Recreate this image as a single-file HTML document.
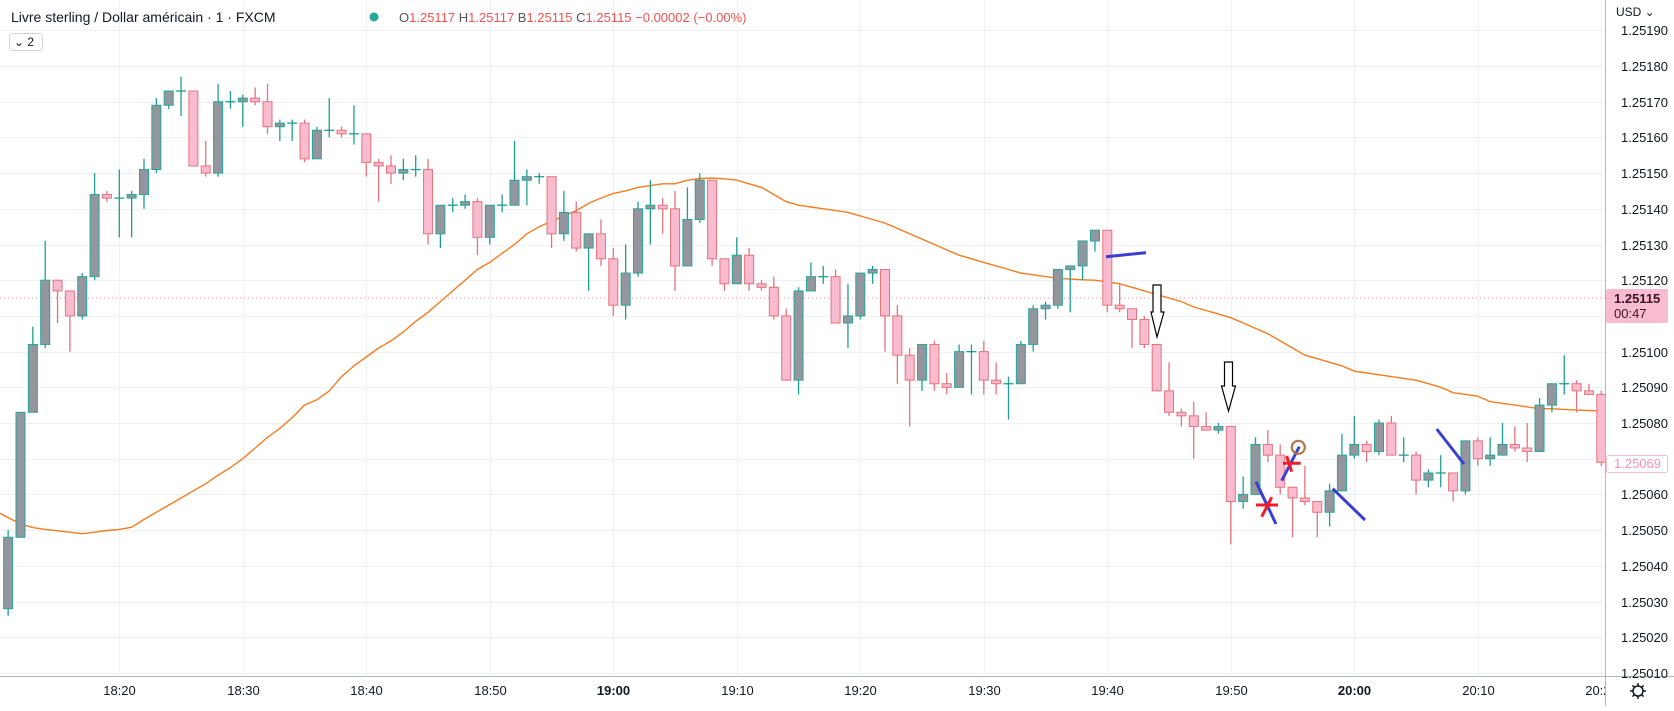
<!DOCTYPE html>
<html><head><meta charset="utf-8"><style>
html,body{margin:0;padding:0;background:#fff;}
body{width:1674px;height:706px;overflow:hidden;font-family:"Liberation Sans",sans-serif;}
svg text{font-family:"Liberation Sans",sans-serif;}
</style></head><body>
<svg id="chart" width="1674" height="706" xmlns="http://www.w3.org/2000/svg">
  <defs><clipPath id="xclip"><rect x="0" y="676" width="1605" height="30"/></clipPath></defs>
  <rect x="0" y="0" width="1674" height="706" fill="#ffffff"/>
  <g id="grid"></g>
  <g id="ma"></g>
  <g id="candles"></g>
  <g id="annotations">
    <line x1="1106" y1="256.7" x2="1146" y2="252.7" stroke="#3b3fd0" stroke-width="3"/>
    <path d="M1153 285 H1161 V312 H1164 L1157 337 L1151 312 H1153 Z" fill="#fff" stroke="#000" stroke-width="1.2"/>
    <path d="M1224.5 362 H1232.5 V386 H1235.5 L1228.5 411 L1221.5 386 H1224.5 Z" fill="#fff" stroke="#000" stroke-width="1.2"/>
    <line x1="1256" y1="481.7" x2="1276" y2="524" stroke="#3b3fd0" stroke-width="3"/>
    <line x1="1256" y1="505" x2="1278" y2="505" stroke="#f01c2a" stroke-width="3"/>
    <line x1="1261.7" y1="516.7" x2="1271.7" y2="497.3" stroke="#f01c2a" stroke-width="3"/>
    <line x1="1281.7" y1="480.7" x2="1299.3" y2="446.7" stroke="#3b3fd0" stroke-width="3"/>
    <line x1="1283" y1="463.3" x2="1300.7" y2="463.3" stroke="#f01c2a" stroke-width="3"/>
    <line x1="1286.7" y1="456" x2="1291.7" y2="471.7" stroke="#f01c2a" stroke-width="3"/>
    <circle cx="1298.3" cy="447.3" r="6.5" fill="none" stroke="#b0754a" stroke-width="2.2"/>
    <line x1="1332.7" y1="488.7" x2="1365" y2="520" stroke="#3b3fd0" stroke-width="3"/>
    <line x1="1436.7" y1="429" x2="1464" y2="464" stroke="#3b3fd0" stroke-width="3"/>
  </g>
  <rect x="1605" y="0" width="69" height="706" fill="#fff"/>
  <rect x="0" y="676" width="1674" height="30" fill="#fff"/>
  <line x1="1605.5" y1="0" x2="1605.5" y2="706" stroke="#b2b5be" stroke-width="1"/>
  <line x1="0" y1="676.5" x2="1674" y2="676.5" stroke="#b2b5be" stroke-width="1"/>
  <g id="yaxis"></g>
  <g id="xaxis" clip-path="url(#xclip)"></g>
  <text x="1616" y="16" font-size="12" fill="#131722">USD ⌄</text>
  <rect x="1606" y="289" width="62" height="34" rx="2" fill="#f8bbd0"/>
  <text x="1614" y="303" font-size="13" fill="#3a1525" font-weight="bold">1.25115</text>
  <text x="1614" y="318" font-size="13" fill="#3a1525">00:47</text>
  <rect x="1606.5" y="455.5" width="61" height="17" rx="2" fill="#fff" stroke="#f8bbd0"/>
  <text x="1614" y="468" font-size="13" fill="#f48fb1">1.25069</text>
  <g transform="translate(1638,691)">
    <circle r="5" fill="none" stroke="#131722" stroke-width="1.5"/>
    <g stroke="#131722" stroke-width="1.5"><line x1="0" y1="-8" x2="0" y2="-5"/><line x1="0" y1="5" x2="0" y2="8"/><line x1="-8" y1="0" x2="-5" y2="0"/><line x1="5" y1="0" x2="8" y2="0"/><line x1="-5.6" y1="-5.6" x2="-3.5" y2="-3.5"/><line x1="3.5" y1="3.5" x2="5.6" y2="5.6"/><line x1="-5.6" y1="5.6" x2="-3.5" y2="3.5"/><line x1="3.5" y1="-3.5" x2="5.6" y2="-5.6"/></g>
  </g>
  <g>
    <text x="11" y="22" font-size="14" fill="#131722">Livre sterling / Dollar américain · 1 · FXCM</text>
    <circle cx="374" cy="17" r="4.5" fill="#26a69a"/>
    <text x="399" y="22" font-size="13" fill="#ef5350"><tspan fill="#555">O</tspan>1.25117 <tspan fill="#555">H</tspan>1.25117 <tspan fill="#555">B</tspan>1.25115 <tspan fill="#555">C</tspan>1.25115 −0.00002 (−0.00%)</text>
    <rect x="9.5" y="33.5" width="33" height="17" rx="3" fill="#fff" stroke="#d1d4dc"/>
    <text x="14" y="46" font-size="12" fill="#131722">⌄ 2</text>
  </g>
</svg>
<script>
const opens=[125028,125048,125083,125102,125120,125117,125110,125121,125144,125143,125143,125144,125151,125169,125173,125173,125152,125150,125170,125170,125171,125170,125163,125164,125164,125154,125162,125162,125161,125161,125153,125152,125150,125151,125151,125133,125141,125141,125142,125132,125141,125141,125148,125149,125149,125133,125139,125129,125133,125126,125113,125122,125140,125141,125140,125124,125137,125148,125126,125119,125127,125119,125118,125110,125092,125117,125121,125121,125108,125110,125122,125123,125110,125099,125092,125102,125091,125090,125100,125100,125092,125091,125091,125102,125112,125113,125123,125124,125131,125134,125113,125112,125109,125102,125089,125083,125082,125079,125078,125079,125058,125060,125074,125071,125062,125059,125058,125055,125061,125071,125074,125072,125080,125071,125071,125064,125066,125066,125061,125075,125070,125071,125074,125073,125072,125085,125091,125091,125089,125088];
const highs=[125050,125083,125107,125131,125120,125117,125122,125150,125145,125151,125145,125154,125171,125173,125177,125173,125159,125175,125173,125172,125174,125175,125165,125165,125165,125163,125171,125163,125169,125161,125154,125155,125154,125155,125154,125141,125143,125144,125143,125141,125144,125159,125151,125150,125149,125145,125142,125133,125137,125129,125130,125142,125148,125143,125145,125146,125150,125148,125126,125132,125129,125120,125121,125112,125118,125125,125124,125123,125119,125122,125124,125123,125113,125101,125102,125103,125094,125102,125102,125103,125097,125093,125103,125113,125114,125123,125124,125131,125134,125134,125119,125112,125110,125102,125097,125084,125086,125083,125080,125079,125065,125076,125078,125074,125062,125068,125058,125063,125077,125082,125075,125081,125082,125076,125072,125067,125071,125066,125075,125076,125076,125080,125079,125080,125087,125091,125099,125092,125091,125089];
const lows=[125026,125048,125083,125101,125108,125100,125109,125120,125142,125132,125132,125140,125150,125168,125166,125152,125149,125149,125168,125163,125169,125161,125159,125159,125153,125154,125160,125160,125158,125149,125142,125147,125148,125149,125130,125129,125139,125140,125127,125130,125139,125141,125141,125147,125129,125131,125128,125117,125124,125110,125109,125121,125130,125133,125117,125124,125136,125124,125117,125119,125117,125117,125109,125092,125088,125117,125119,125108,125101,125109,125119,125100,125091,125079,125089,125089,125088,125090,125088,125088,125088,125081,125091,125100,125109,125112,125111,125120,125128,125111,125111,125101,125101,125089,125082,125079,125070,125078,125077,125046,125056,125060,125069,125060,125048,125057,125048,125051,125061,125070,125069,125071,125071,125069,125060,125062,125062,125058,125060,125068,125068,125071,125072,125069,125072,125083,125088,125083,125088,125068];
const closes=[125048,125083,125102,125120,125117,125110,125121,125144,125143,125143,125144,125151,125169,125173,125173,125152,125150,125170,125170,125171,125170,125163,125164,125164,125154,125162,125162,125161,125161,125153,125152,125150,125151,125151,125133,125141,125141,125142,125132,125141,125141,125148,125149,125149,125133,125139,125129,125133,125126,125113,125122,125140,125141,125140,125124,125137,125148,125126,125119,125127,125119,125118,125110,125092,125117,125121,125121,125108,125110,125122,125123,125110,125099,125092,125102,125091,125090,125100,125100,125092,125091,125091,125102,125112,125113,125123,125124,125131,125134,125113,125112,125109,125102,125089,125083,125082,125079,125078,125079,125058,125060,125074,125071,125062,125059,125058,125055,125061,125071,125074,125072,125080,125071,125071,125064,125066,125066,125061,125075,125070,125071,125074,125073,125072,125085,125091,125091,125089,125088,125069];
const maValues=[125053.5,125051.7,125050.7,125050.2,125049.8,125049.4,125049,125049.4,125049.9,125050.2,125050.8,125053,125055,125057,125059,125061,125063,125065.4,125067.5,125070,125073,125076,125078.5,125081.5,125085,125086.5,125089,125093,125096,125098.5,125101,125103,125105.5,125108.5,125111,125114,125117,125120,125123,125125,125127.5,125130,125133,125135,125136.5,125138,125139.5,125141.5,125143,125144.3,125145,125146,125146.5,125147,125147,125148,125148.5,125148.6,125148.4,125148,125147,125146,125144,125142,125141,125140.5,125140,125139.5,125139,125138,125137,125136,125134.5,125133,125131.5,125130,125128.5,125127,125126,125125,125124,125123,125122,125121.5,125121,125120.5,125120.3,125120.1,125120,125119.5,125119,125118,125117,125116,125115,125114,125112.5,125111.5,125110.5,125109.5,125108,125106.5,125105,125103,125101,125099,125098,125097,125096,125094.5,125094,125093.5,125093,125092.5,125092,125091,125090,125088.5,125088,125087.5,125086,125085.5,125085,125084.5,125084,125084,125083.8,125083.6,125083.5,125083.4];
const priceTicks=[125190,125180,125170,125160,125150,125140,125130,125120,125110,125100,125090,125080,125070,125060,125050,125040,125030,125020,125010];
const timeTicks=[9,19,29,39,49,59,69,79,89,99,109,119,129];
const timeLabels=["18:20","18:30","18:40","18:50","19:00","19:10","19:20","19:30","19:40","19:50","20:00","20:10","20:20"];

const NS="http://www.w3.org/2000/svg";
function yScale(p){return 66+(125180-p)*3.57;}
function xScale(i){return 8.15+12.35*i;}
function mk(tag,attrs,parent){const e=document.createElementNS(NS,tag);for(const k in attrs)e.setAttribute(k,attrs[k]);parent.appendChild(e);return e;}

const grid=document.getElementById('grid');
const yaxis=document.getElementById('yaxis');
const xaxis=document.getElementById('xaxis');
priceTicks.forEach(p=>{
  const y=Math.round(yScale(p))+0.5;
  const g=mk('line',{x1:0,x2:1605,y1:y,y2:y,stroke:'#edf1f5','stroke-width':1},grid);
  
  
  const t=mk('text',{x:1621,y:y+4.5,'font-size':13,fill:'#131722'},yaxis);
  t.textContent=(p/100000).toFixed(5);
  
  
});
timeTicks.forEach((idx,k)=>{
  const x=Math.round(xScale(idx))+0.5;
  const g=mk('line',{x1:x,x2:x,y1:0,y2:676,stroke:'#edf1f5','stroke-width':1},grid);
  
  
  const lab=timeLabels[k];
  const bold=(lab==="19:00"||lab==="20:00");
  const t=mk('text',{x:x,y:695,'font-size':13,fill:'#131722','text-anchor':'middle','font-weight':bold?'bold':'normal'},xaxis);
  t.textContent=lab;
  
  
});
const pl=mk('line',{x1:0,x2:1605,y1:yScale(125115),y2:yScale(125115),stroke:'#f48fb1','stroke-width':1,'stroke-dasharray':'1 3'},grid);



const maG=document.getElementById('ma');
let d='';
maValues.forEach((v,i)=>{d+=(i?'L':'M')+xScale(i).toFixed(1)+' '+yScale(v).toFixed(1);});
d='M0 '+yScale(125054.7).toFixed(1)+d.replace(/^M/,' L');
const maPath=mk('path',{d:d,fill:'none',stroke:'#f57c1f','stroke-width':1.4},maG);



const cg=document.getElementById('candles');
for(let i=0;i<opens.length;i++){
  const o=opens[i],h=highs[i],l=lows[i],c=closes[i];
  const bull=c>=o;
  const x=xScale(i);
  const g=mk('g',{},cg);
  
  
  const wc=bull?'#1f9e90':'#e5737b';
  mk('line',{x1:x,x2:x,y1:yScale(h),y2:yScale(l),stroke:wc,'stroke-width':1.3},g);
  const top=yScale(Math.max(o,c)),bot=yScale(Math.min(o,c));
  const hgt=Math.max(bot-top,1);
  if(o===c){
    mk('line',{x1:x-5,x2:x+5,y1:top,y2:top,stroke:wc,'stroke-width':1.3},g);
  } else {
    mk('rect',{x:x-4.5,y:top,width:9,height:hgt,fill:bull?'#95969d':'#f8bbd0',stroke:bull?'#26a69a':'#e5737b','stroke-width':1},g);
  }
}
</script>
</body></html>
